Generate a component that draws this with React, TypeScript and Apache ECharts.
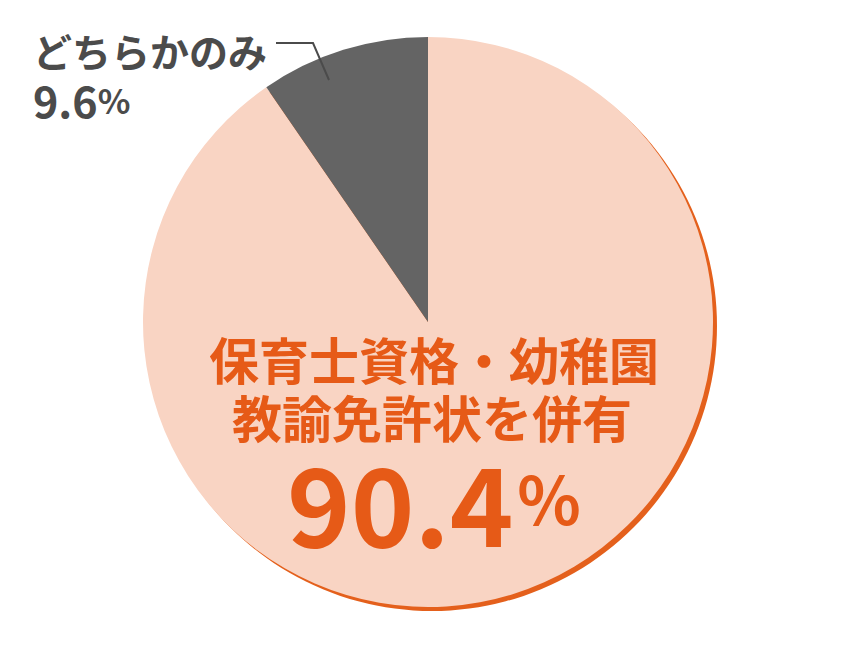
import React, { useEffect, useRef } from "react";
import * as echarts from "echarts";

const categories = ["保育士資格・幼稚園教諭免許状を併有", "どちらかのみ"];
const mainLines = ["保育士資格・幼稚園", "教諭免許状を併有"];
const values = [90.4, 9.6];
const colors = ["#F9D4C3", "#646464"];
const shadowColor = "#E4601C";
const textOrange = "#E65A17";
const textGray = "#4B4B4B";

export default function App() {
  const ref = useRef<HTMLDivElement>(null);
  useEffect(() => {
    document.body.style.margin = "0";
    const chart = echarts.init(ref.current!, undefined, { renderer: "svg" });
    const font = "'Noto Sans CJK JP', 'Noto Sans', sans-serif";
    chart.setOption({
      animation: false,
      backgroundColor: "#ffffff",
      series: [
        {
          type: "pie",
          silent: true,
          center: [432, 326],
          radius: [0, 285],
          startAngle: 90,
          label: { show: false },
          labelLine: { show: false },
          itemStyle: { color: shadowColor },
          data: [{ name: "shadow", value: values[0] + values[1] }],
          z: 1,
        },
        {
          type: "pie",
          silent: true,
          center: [428, 322],
          radius: [0, 285],
          startAngle: 90,
          clockwise: true,
          label: { show: false },
          labelLine: { show: false },
          itemStyle: { borderWidth: 0 },
          data: categories.map((c, i) => ({
            name: c,
            value: values[i],
            itemStyle: { color: colors[i] },
          })),
          z: 2,
        },
      ],
      graphic: [
        {
          type: "text",
          x: 434,
          y: 358,
          style: {
            text: mainLines[0],
            align: "center",
            verticalAlign: "middle",
            font: `bold 50px ${font}`,
            lineHeight: 50,
            fill: textOrange,
          },
          z: 10,
        },
        {
          type: "text",
          x: 432,
          y: 416,
          style: {
            text: mainLines[1],
            align: "center",
            verticalAlign: "middle",
            font: `bold 50px ${font}`,
            lineHeight: 50,
            fill: textOrange,
          },
          z: 10,
        },
        {
          type: "text",
          x: 434,
          y: 550,
          style: {
            text: `{n|${values[0].toFixed(1)}}{p|%}`,
            align: "center",
            verticalAlign: "bottom",
            rich: {
              n: { font: `bold 108px ${font}`, lineHeight: 100, fill: textOrange, padding: [0, 4, 0, 0] },
              p: { font: `bold 66px ${font}`, lineHeight: 66, fill: textOrange, padding: [0, 0, 8, 0] },
            },
          },
          z: 10,
        },
        {
          type: "text",
          x: 33,
          y: 50,
          style: {
            text: categories[1],
            verticalAlign: "middle",
            font: `bold 39px ${font}`,
            lineHeight: 40,
            fill: textGray,
          },
          z: 10,
        },
        {
          type: "text",
          x: 33,
          y: 99,
          style: {
            text: `{n|${values[1].toFixed(1)}}{p|%}`,
            verticalAlign: "middle",
            rich: {
              n: { font: `bold 43px ${font}`, lineHeight: 40, fill: textGray },
              p: { font: `bold 34px ${font}`, lineHeight: 34, fill: textGray },
            },
          },
          z: 10,
        },
        {
          type: "polyline",
          shape: { points: [[276, 43], [313, 43], [329, 80]] },
          style: { stroke: textGray, lineWidth: 2, fill: "none" },
          z: 10,
        },
      ],
    });
    return () => chart.dispose();
  }, []);
  return <div ref={ref} style={{ width: 860, height: 651 }} />;
}
